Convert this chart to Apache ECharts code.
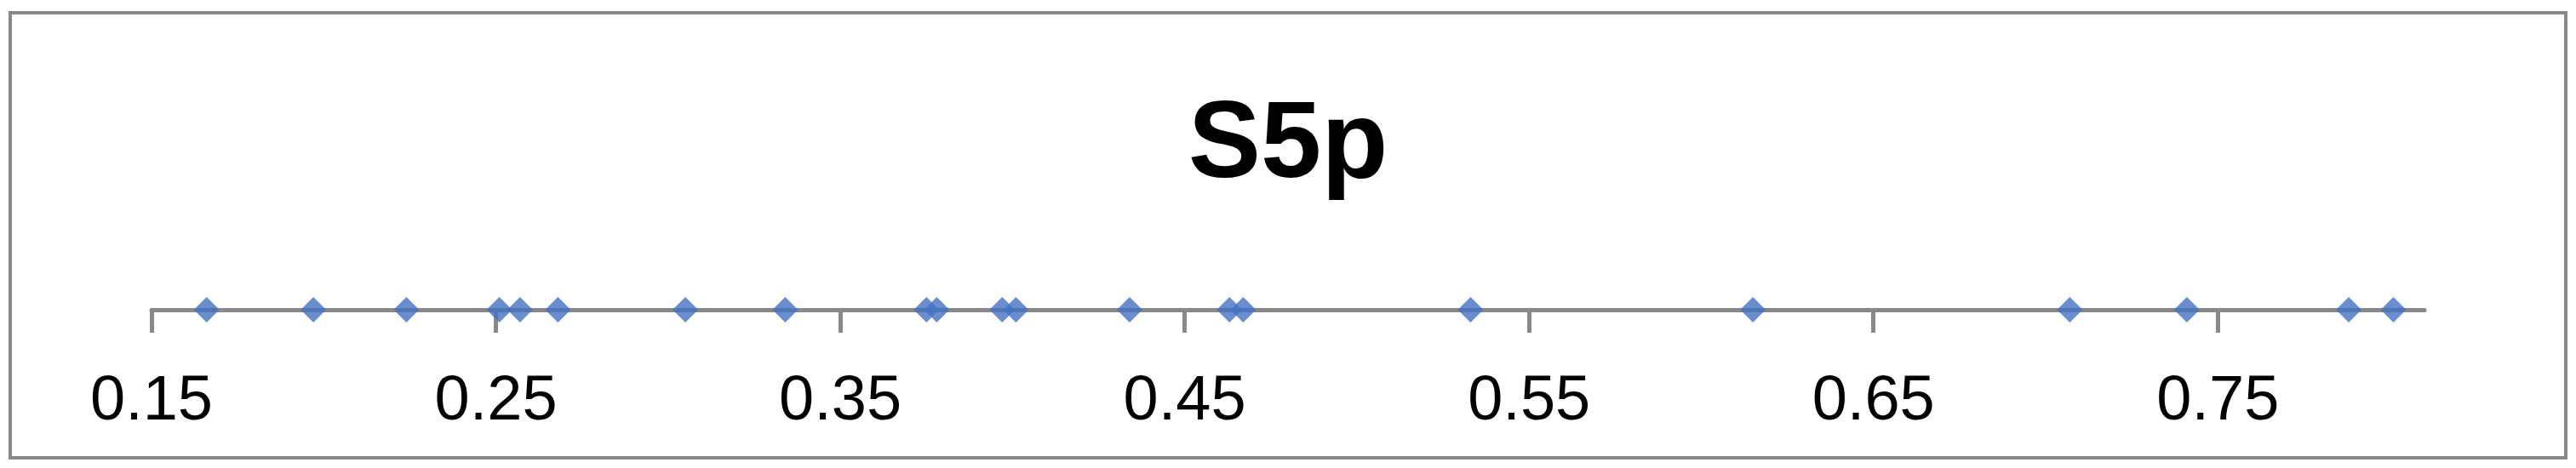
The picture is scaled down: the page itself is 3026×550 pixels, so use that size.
<!DOCTYPE html>
<html>
<head>
<meta charset="utf-8">
<script src="https://cdn.jsdelivr.net/npm/echarts@6/dist/echarts.min.js"></script>
<style>
  html, body { margin: 0; padding: 0; background: #fff; }
  #chart { width: 3026px; height: 550px; }
</style>
</head>
<body>
<div id="chart"></div>
<script>
// S5p values
const s5pValues = [
  0.166, 0.197, 0.224, 0.251, 0.257, 0.268, 0.305, 0.334,
  0.375, 0.378, 0.397, 0.401, 0.434, 0.463, 0.467, 0.533,
  0.615, 0.707, 0.741, 0.788, 0.801
]
const tickValues = [0.15, 0.25, 0.35, 0.45, 0.55, 0.65, 0.75]
const axisMin = 0.15
const axisMax = 0.81

const chart = echarts.init(document.getElementById('chart'))
chart.setOption({
  animation: false,
  title: {
    text: 'S5p',
    left: 'center',
    top: 104,
    textStyle: {
      fontFamily: 'Liberation Sans, Arial, sans-serif',
      fontWeight: 'bold',
      fontSize: 128,
      color: '#000'
    }
  },
  graphic: [{
    type: 'rect',
    shape: { x: 12, y: 15, width: 3002, height: 523 },
    style: { fill: 'none', stroke: '#898989', lineWidth: 4 }
  }],
  grid: { left: 178, right: 178, top: 250, bottom: 186 },
  xAxis: {
    type: 'value',
    min: axisMin,
    max: axisMax,
    splitLine: { show: false },
    axisLine: { lineStyle: { color: '#898989', width: 5 } },
    axisTick: {
      customValues: tickValues,
      length: 27,
      lineStyle: { color: '#898989', width: 5 }
    },
    axisLabel: {
      customValues: tickValues,
      margin: 72,
      color: '#000',
      fontFamily: 'Liberation Sans, Arial, sans-serif',
      fontSize: 74,
      formatter: v => v.toFixed(2)
    }
  },
  yAxis: { type: 'value', min: 0, max: 1, show: false },
  series: [{
    type: 'scatter',
    symbol: 'diamond',
    symbolSize: 30,
    itemStyle: { color: '#4472C4' },
    data: s5pValues.map(v => [v, 0])
  }]
})
</script>
</body>
</html>
